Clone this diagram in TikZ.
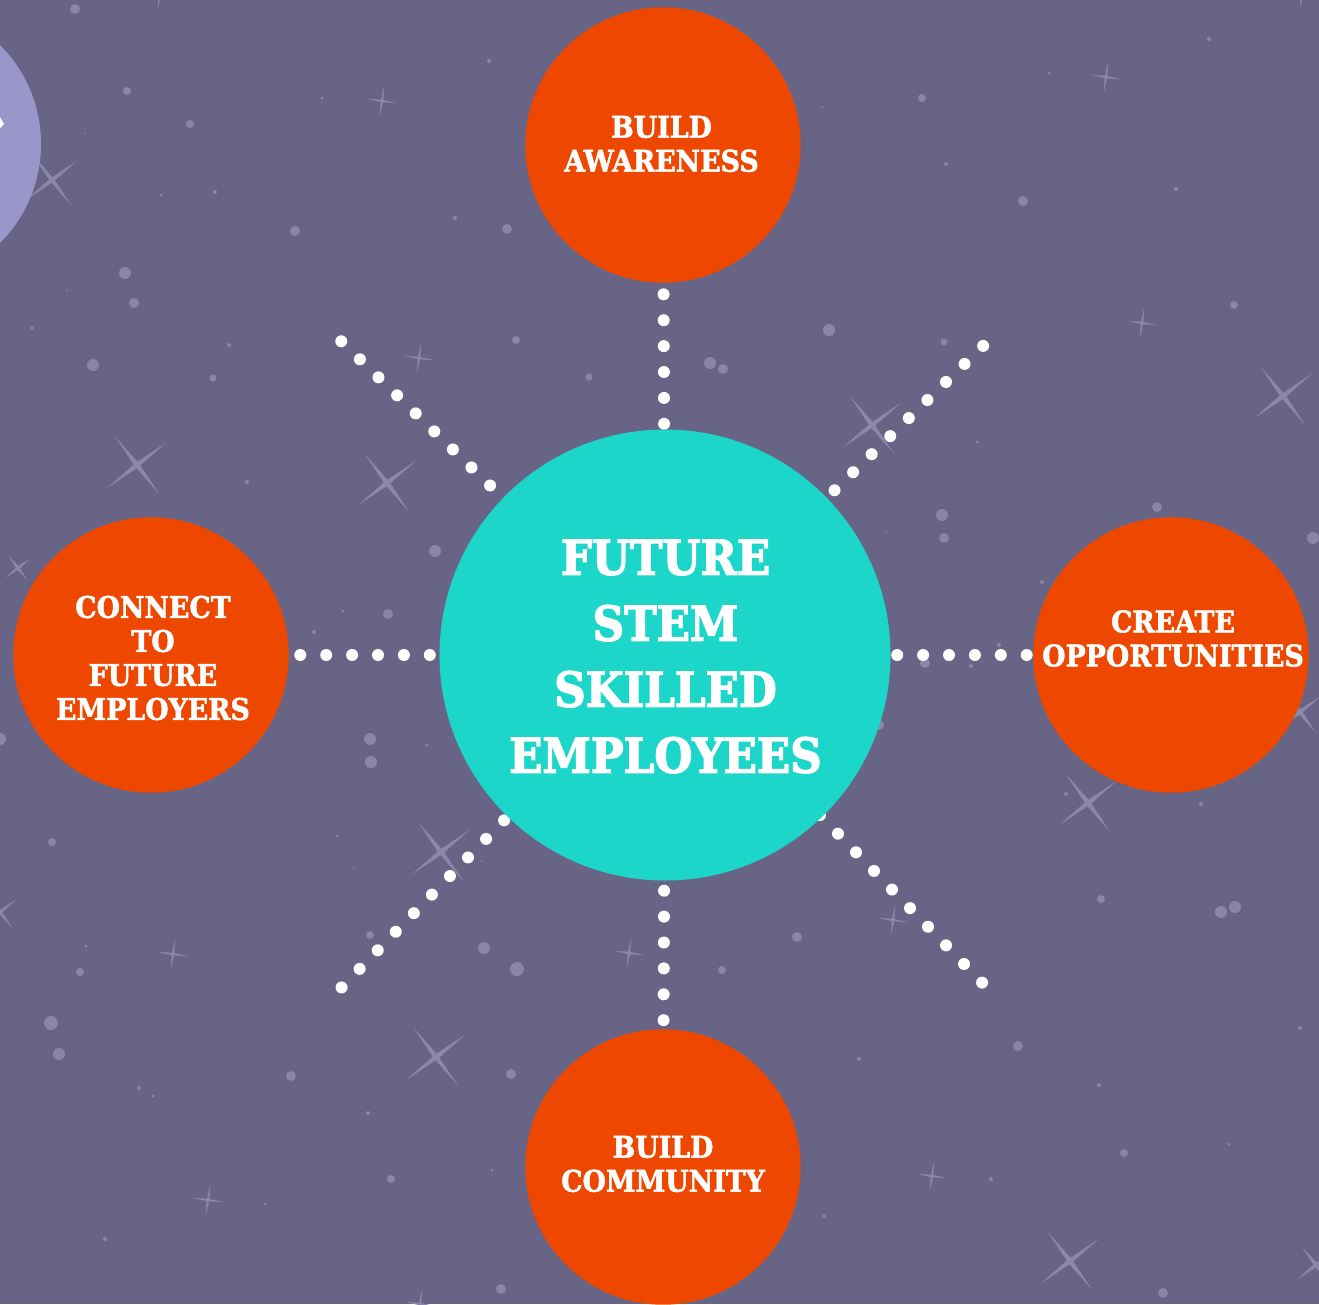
\documentclass[tikz,border=0pt]{standalone}
\usepackage{fontspec}
\usetikzlibrary{backgrounds}
\newfontfamily\slab{DejaVu Serif}[FakeStretch=0.9, FakeBold=1.8]
\newfontfamily\slabhub{DejaVu Serif}[FakeStretch=0.91, FakeBold=2.6]
\definecolor{bgc}{RGB}{104,100,134}
\definecolor{tealc}{RGB}{28,214,202}
\definecolor{orangec}{RGB}{238,72,0}
\definecolor{lavc}{RGB}{155,150,202}
\definecolor{starc}{RGB}{140,136,168}
\definecolor{speckc}{RGB}{138,134,166}
\newcommand\bigspark[4]{%
  \fill[starc,shift={(#1,#2)},rotate=37.5] (-#3,0)--(0,#4)--(#3,0)--(0,-#4)--cycle;
  \fill[starc,shift={(#1,#2)},rotate=127.5] (-#3,0)--(0,#4)--(#3,0)--(0,-#4)--cycle;}
\newcommand\smallspark[2]{%
  \fill[starc,shift={(#1,#2)},rotate=-8] (-15,0)--(0,1.3)--(15,0)--(0,-1.3)--cycle;
  \fill[starc,shift={(#1,#2)},rotate=82] (-15,0)--(0,1.3)--(15,0)--(0,-1.3)--cycle;}
\tikzset{
  bubble/.style={circle, fill=orangec, minimum size=275.4pt, inner sep=0pt},
  hub/.style={circle, fill=tealc, minimum size=451pt, inner sep=0pt},
  lbl/.style={text=white, align=center, inner sep=0pt,
    font=\slab\bfseries\fontsize{29.8}{34}\selectfont},
  hublbl/.style={text=white, align=center, inner sep=0pt,
    font=\slabhub\bfseries\fontsize{48}{66}\selectfont},
  dotline/.style={draw=white, line width=12pt, line cap=round,
    dash pattern=on 0pt off 25.9pt},
}
\begin{document}
\begin{tikzpicture}[x=1pt,y=-1pt]
\useasboundingbox (0,0) rectangle (1319,1304);
\clip (0,0) rectangle (1319,1304);
% partial lavender planet
\fill[lavc] (-99,144) circle (140);
\fill[white] (0,117) -- (4,124) -- (0,128) -- cycle;
% circles
\node[hub] (hub) at (665,655) {};
\node[bubble] (top) at (663,145) {};
\node[bubble] (left) at (151,655) {};
\node[bubble] (right) at (1171,655) {};
\node[bubble] (bottom) at (663,1167) {};
% labels
\node[hublbl] (hubt) at (665.5,656.5) {FUTURE\\STEM\\SKILLED\\EMPLOYEES};
\node[lbl] (topt) at (661.5,144) {BUILD\\AWARENESS};
\node[lbl] (leftt) at (153,658) {CONNECT\\TO\\FUTURE\\EMPLOYERS};
\node[lbl] (rightt) at (1173,638.5) {CREATE\\OPPORTUNITIES};
\node[lbl] (bottomt) at (663,1164) {BUILD\\COMMUNITY};
% free ends of the diagonal rays
\coordinate (ul) at (341,341);
\coordinate (ur) at (983,346);
\coordinate (ll) at (342,987);
\coordinate (lr) at (982,982.5);
\begin{pgfonlayer}{background}
\clip (0,0) rectangle (1319,1304);
\fill[bgc] (0,0) rectangle (1319,1304);
% sparkles
\bigspark{52}{180}{32}{2.3}
\bigspark{137}{465}{37}{2.5}
\bigspark{387}{483}{37}{2.5}
\bigspark{872}{425}{37}{2.5}
\bigspark{1283}{396}{37}{2.5}
\bigspark{441}{852}{37}{2.5}
\bigspark{436}{1057}{37}{2.5}
\bigspark{1088}{803}{37}{2.5}
\bigspark{1070}{1261}{37}{2.5}
\bigspark{1300}{712}{26}{2.2}
\bigspark{18}{568}{16}{1.6}
\bigspark{1316}{1265}{24}{2}
\bigspark{0}{912}{20}{1.8}
\smallspark{382}{101}
\smallspark{419}{358}
\smallspark{1106}{77}
\smallspark{1142}{323}
\smallspark{173}{954}
\smallspark{208}{1200}
\smallspark{629}{953}
\smallspark{893}{920}
\smallspark{932}{1176}
\smallspark{420}{1304}
\smallspark{160}{-6}
\smallspark{1302}{-6}
% specks
\foreach \x/\y/\r in {75/9/5,127/91/4,190/124/4,295/231/5,507/229/5,125/273/6,
  134/303/5,93/365/6,213/378/3.5,516/340/4,589/377/3.5,489/61/2,322/98/1.5,
  85/133/1,161/195/1.5,215/192/2,455/218/2,67/290/1,32/328/2,229/345/2,247/482/2,
  1209/39/2,1049/73/1.5,922/98/4,822/107/1,946/164/2,1176/189/2,1267/208/1,
  1023/201/5,1234/305/4,829/330/6,944/342/3.5,710/363/6,723/369/5,977/442/1.5,
  1157/507/5,942/515/6,944/538/5,1313/538/6,886/532/1,1042/582/2,999/645/2,
  925/663/5,971/666/2,1066/794/2,1201/804/2,879/725/5,
  435/551/6,388/614/5,343/611/1.5,314/632/2,370/739/6,371/762/6,427/745/1.5,0/739/6,
  52/842/4,86/946/1.5,80/972/4,51/1023/7,59/1054/6,139/1088/2,153/1096/1.5,
  291/1076/5,368/1113/2,391/1179/4,511/1074/5,484/948/6,517/969/7,370/935/4,
  337/836/1.5,354/868/1,492/1170/1.5,265/1204/1.5,105/1239/2,501/1289/5,482/861/1,
  1101/899/4,1221/912/6,1235/907/6,797/937/5,722/970/4,1018/1046/5,1300/1028/2,
  859/1059/2,1099/1085/2,1124/1153/4,1229/1144/1.5,991/1179/2,824/1216/2,1163/1293/5}
  {\fill[speckc] (\x,\y) circle (\r);}
% dotted rays
\draw[dotline, shorten <=5.5pt, shorten >=6pt] (hub) -- (top);
\draw[dotline, shorten <=10pt, shorten >=6pt] (hub) -- (bottom);
\draw[dotline, shorten <=9.5pt, shorten >=6pt] (hub) -- (left);
\draw[dotline, shorten <=6.5pt, shorten >=3pt] (hub) -- (right);
\draw[dotline, shorten <=17.9pt, shorten >=-4pt] (hub) -- (ul);
\draw[dotline, shorten <=10.7pt, shorten >=-4pt] (hub) -- (ur);
\draw[dotline, shorten <=5pt, shorten >=-4pt] (hub) -- (ll);
\draw[dotline, shorten <=-2.9pt, shorten >=-4pt] (hub) -- (lr);
\end{pgfonlayer}
\end{tikzpicture}
\end{document}
